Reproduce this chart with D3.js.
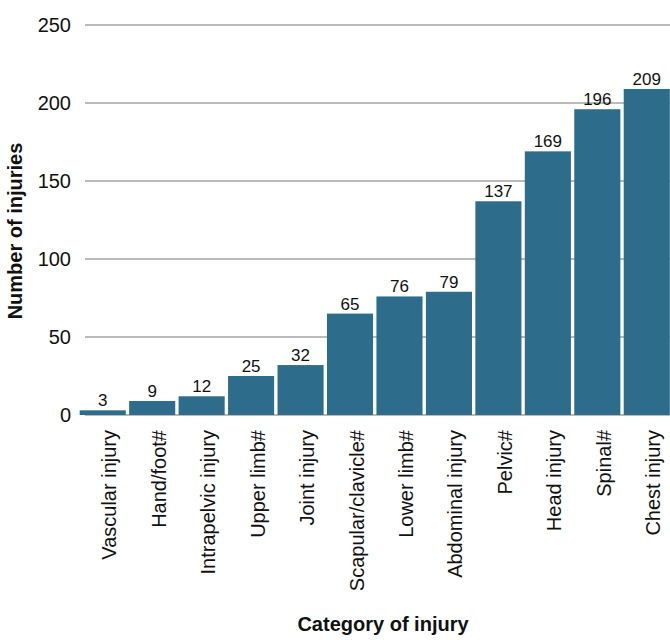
<!DOCTYPE html>
<html>
<head>
<meta charset="utf-8">
<script src="https://cdn.jsdelivr.net/npm/d3@7"></script>
<style>
  html, body { margin: 0; padding: 0; background: #fff; }
  svg { display: block; font-family: "Liberation Sans", Arial, sans-serif; }
</style>
</head>
<body>
<svg id="chart" width="670" height="640"></svg>
<script>
// Injury categories, ordered from least to most frequent
const categories = [
  "Vascular injury", "Hand/foot#", "Intrapelvic injury", "Upper limb#",
  "Joint injury", "Scapular/clavicle#", "Lower limb#", "Abdominal injury",
  "Pelvic#", "Head injury", "Spinal#", "Chest injury"
];
const injuryCounts = [3, 9, 12, 25, 32, 65, 76, 79, 137, 169, 196, 209];
const yTicks = [0, 50, 100, 150, 200, 250];

const svg = d3.select("#chart");
const barColor = "#2e6c8c";
const gridColor = "#a3a3a3";

const x = d3.scaleBand()
  .domain(categories)
  .range([78, 671.5])
  .paddingInner(0.068)
  .paddingOuter(0.034);

const y = d3.scaleLinear()
  .domain([0, 250])
  .range([415, 25]);

// Horizontal gridlines
svg.append("g")
  .selectAll("line")
  .data(yTicks)
  .join("line")
  .attr("x1", 85)
  .attr("x2", 670)
  .attr("y1", d => y(d))
  .attr("y2", d => y(d))
  .attr("stroke", gridColor)
  .attr("stroke-width", 1.5);

// Y tick labels
svg.append("g")
  .selectAll("text")
  .data(yTicks)
  .join("text")
  .attr("x", 71)
  .attr("y", d => y(d) + 7)
  .attr("text-anchor", "end")
  .attr("font-size", 20)
  .attr("fill", "#111")
  .text(d => d);

// Bars
svg.append("g")
  .selectAll("rect")
  .data(injuryCounts)
  .join("rect")
  .attr("x", (d, i) => x(categories[i]))
  .attr("width", x.bandwidth())
  .attr("y", d => y(d))
  .attr("height", d => y(0) - y(d))
  .attr("fill", barColor);

// Value labels above bars
svg.append("g")
  .selectAll("text")
  .data(injuryCounts)
  .join("text")
  .attr("x", (d, i) => x(categories[i]) + x.bandwidth() / 2)
  .attr("y", d => y(d) - 4)
  .attr("text-anchor", "middle")
  .attr("font-size", 17)
  .attr("fill", "#111")
  .text(d => d);

// Rotated category labels
svg.append("g")
  .selectAll("text")
  .data(categories)
  .join("text")
  .attr("transform", d => `translate(${x(d) + x.bandwidth() / 2 + 13.5},430) rotate(-90)`)
  .attr("text-anchor", "end")
  .attr("font-size", 20)
  .attr("fill", "#111")
  .text(d => d);

// Axis titles
svg.append("text")
  .attr("transform", "translate(22,231) rotate(-90)")
  .attr("text-anchor", "middle")
  .attr("font-size", 20)
  .attr("font-weight", "bold")
  .attr("fill", "#111")
  .text("Number of injuries");

svg.append("text")
  .attr("x", 383)
  .attr("y", 631)
  .attr("text-anchor", "middle")
  .attr("font-size", 20)
  .attr("font-weight", "bold")
  .attr("fill", "#111")
  .text("Category of injury");
</script>
</body>
</html>
